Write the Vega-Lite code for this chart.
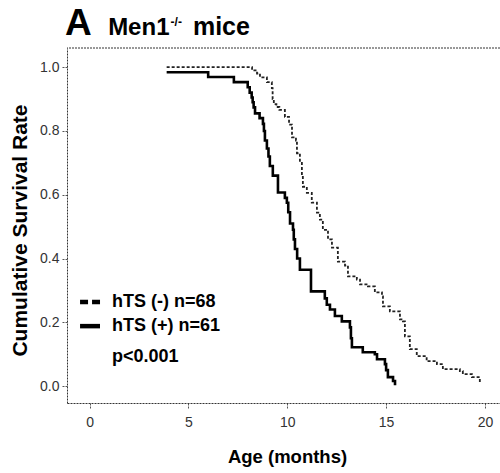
{
  "$schema": "https://vega.github.io/schema/vega-lite/v6.json",
  "width": 433,
  "height": 355,
  "autosize": "none",
  "padding": {"left": 67, "top": 48, "right": 0, "bottom": 70},
  "background": "white",
  "config": {"view": {"stroke": null}, "font": "Liberation Sans"},
  "data": {"values": [
    {"g": "hTS (-) n=68", "age": 3.9, "s": 1.0},
    {"g": "hTS (-) n=68", "age": 8.22, "s": 0.99},
    {"g": "hTS (-) n=68", "age": 8.47, "s": 0.98},
    {"g": "hTS (-) n=68", "age": 8.62, "s": 0.968},
    {"g": "hTS (-) n=68", "age": 8.97, "s": 0.953},
    {"g": "hTS (-) n=68", "age": 9.22, "s": 0.934},
    {"g": "hTS (-) n=68", "age": 9.26, "s": 0.9},
    {"g": "hTS (-) n=68", "age": 9.32, "s": 0.884},
    {"g": "hTS (-) n=68", "age": 9.45, "s": 0.875},
    {"g": "hTS (-) n=68", "age": 9.6, "s": 0.866},
    {"g": "hTS (-) n=68", "age": 9.88, "s": 0.844},
    {"g": "hTS (-) n=68", "age": 10.09, "s": 0.82},
    {"g": "hTS (-) n=68", "age": 10.24, "s": 0.78},
    {"g": "hTS (-) n=68", "age": 10.44, "s": 0.77},
    {"g": "hTS (-) n=68", "age": 10.49, "s": 0.73},
    {"g": "hTS (-) n=68", "age": 10.64, "s": 0.7},
    {"g": "hTS (-) n=68", "age": 10.74, "s": 0.656},
    {"g": "hTS (-) n=68", "age": 10.79, "s": 0.625},
    {"g": "hTS (-) n=68", "age": 10.99, "s": 0.606},
    {"g": "hTS (-) n=68", "age": 11.24, "s": 0.575},
    {"g": "hTS (-) n=68", "age": 11.5, "s": 0.544},
    {"g": "hTS (-) n=68", "age": 11.65, "s": 0.522},
    {"g": "hTS (-) n=68", "age": 11.8, "s": 0.49},
    {"g": "hTS (-) n=68", "age": 12.06, "s": 0.46},
    {"g": "hTS (-) n=68", "age": 12.26, "s": 0.434},
    {"g": "hTS (-) n=68", "age": 12.56, "s": 0.39},
    {"g": "hTS (-) n=68", "age": 12.92, "s": 0.378},
    {"g": "hTS (-) n=68", "age": 13.07, "s": 0.344},
    {"g": "hTS (-) n=68", "age": 13.52, "s": 0.334},
    {"g": "hTS (-) n=68", "age": 13.68, "s": 0.319},
    {"g": "hTS (-) n=68", "age": 14.08, "s": 0.3125},
    {"g": "hTS (-) n=68", "age": 14.43, "s": 0.294},
    {"g": "hTS (-) n=68", "age": 14.79, "s": 0.281},
    {"g": "hTS (-) n=68", "age": 14.84, "s": 0.25},
    {"g": "hTS (-) n=68", "age": 15.19, "s": 0.234},
    {"g": "hTS (-) n=68", "age": 15.7, "s": 0.209},
    {"g": "hTS (-) n=68", "age": 15.85, "s": 0.203},
    {"g": "hTS (-) n=68", "age": 15.95, "s": 0.156},
    {"g": "hTS (-) n=68", "age": 16.2, "s": 0.116},
    {"g": "hTS (-) n=68", "age": 16.55, "s": 0.094},
    {"g": "hTS (-) n=68", "age": 17.05, "s": 0.078},
    {"g": "hTS (-) n=68", "age": 17.57, "s": 0.069},
    {"g": "hTS (-) n=68", "age": 17.87, "s": 0.053},
    {"g": "hTS (-) n=68", "age": 18.73, "s": 0.047},
    {"g": "hTS (-) n=68", "age": 18.88, "s": 0.0375},
    {"g": "hTS (-) n=68", "age": 19.34, "s": 0.028},
    {"g": "hTS (-) n=68", "age": 19.74, "s": 0.0125},
    {"g": "hTS (+) n=61", "age": 3.9, "s": 0.984},
    {"g": "hTS (+) n=61", "age": 6.0, "s": 0.969},
    {"g": "hTS (+) n=61", "age": 7.3, "s": 0.953},
    {"g": "hTS (+) n=61", "age": 8.0, "s": 0.937},
    {"g": "hTS (+) n=61", "age": 8.1, "s": 0.92},
    {"g": "hTS (+) n=61", "age": 8.2, "s": 0.905},
    {"g": "hTS (+) n=61", "age": 8.25, "s": 0.89},
    {"g": "hTS (+) n=61", "age": 8.3, "s": 0.874},
    {"g": "hTS (+) n=61", "age": 8.37, "s": 0.855},
    {"g": "hTS (+) n=61", "age": 8.6, "s": 0.84},
    {"g": "hTS (+) n=61", "age": 8.77, "s": 0.822},
    {"g": "hTS (+) n=61", "age": 8.82, "s": 0.8},
    {"g": "hTS (+) n=61", "age": 8.87, "s": 0.77},
    {"g": "hTS (+) n=61", "age": 8.97, "s": 0.745},
    {"g": "hTS (+) n=61", "age": 9.05, "s": 0.72},
    {"g": "hTS (+) n=61", "age": 9.12, "s": 0.69},
    {"g": "hTS (+) n=61", "age": 9.27, "s": 0.66},
    {"g": "hTS (+) n=61", "age": 9.53, "s": 0.607},
    {"g": "hTS (+) n=61", "age": 9.88, "s": 0.59},
    {"g": "hTS (+) n=61", "age": 9.98, "s": 0.575},
    {"g": "hTS (+) n=61", "age": 10.05, "s": 0.545},
    {"g": "hTS (+) n=61", "age": 10.14, "s": 0.51},
    {"g": "hTS (+) n=61", "age": 10.29, "s": 0.49},
    {"g": "hTS (+) n=61", "age": 10.33, "s": 0.46},
    {"g": "hTS (+) n=61", "age": 10.39, "s": 0.43},
    {"g": "hTS (+) n=61", "age": 10.5, "s": 0.4},
    {"g": "hTS (+) n=61", "age": 10.64, "s": 0.365},
    {"g": "hTS (+) n=61", "age": 11.2, "s": 0.297},
    {"g": "hTS (+) n=61", "age": 11.9, "s": 0.275},
    {"g": "hTS (+) n=61", "age": 12.0, "s": 0.255},
    {"g": "hTS (+) n=61", "age": 12.16, "s": 0.24},
    {"g": "hTS (+) n=61", "age": 12.41, "s": 0.22},
    {"g": "hTS (+) n=61", "age": 12.76, "s": 0.203},
    {"g": "hTS (+) n=61", "age": 13.17, "s": 0.184},
    {"g": "hTS (+) n=61", "age": 13.22, "s": 0.15},
    {"g": "hTS (+) n=61", "age": 13.27, "s": 0.122},
    {"g": "hTS (+) n=61", "age": 13.82, "s": 0.106},
    {"g": "hTS (+) n=61", "age": 14.43, "s": 0.1},
    {"g": "hTS (+) n=61", "age": 14.54, "s": 0.084},
    {"g": "hTS (+) n=61", "age": 14.94, "s": 0.069},
    {"g": "hTS (+) n=61", "age": 15.0, "s": 0.05},
    {"g": "hTS (+) n=61", "age": 15.09, "s": 0.028},
    {"g": "hTS (+) n=61", "age": 15.35, "s": 0.016},
    {"g": "hTS (+) n=61", "age": 15.45, "s": 0.003}
  ]},
  "layer": [
    {
      "mark": {"type": "line", "interpolate": "step-after"},
      "encoding": {
        "x": {"field": "age", "type": "quantitative",
          "scale": {"domain": [-1.14, 20.76], "nice": false, "zero": false},
          "axis": {"values": [0, 5, 10, 15, 20], "title": "Age (months)", "grid": false,
            "domainDash": [2, 1], "domainColor": "#333", "tickColor": "#555", "tickSize": 6, "tickDash": [2, 1],
            "labelFontSize": 14, "labelColor": "#333", "labelPadding": 6,
            "titleFontSize": 18.5, "titleFontWeight": "bold", "titleColor": "#000", "titlePadding": 18, "titleX": 220}},
        "y": {"field": "s", "type": "quantitative",
          "scale": {"domain": [-0.053, 1.06], "nice": false, "zero": false},
          "axis": {"values": [0, 0.2, 0.4, 0.6, 0.8, 1.0], "format": ".1f", "title": "Cumulative Survival Rate", "grid": false,
            "domainDash": [2, 1], "domainColor": "#333", "tickColor": "#555", "tickSize": 5, "tickDash": [2, 1],
            "labelFontSize": 14, "labelColor": "#333", "labelPadding": 3,
            "titleFontSize": 21, "titleFontWeight": "bold", "titleColor": "#000", "titlePadding": 9, "titleY": 182}},
        "strokeDash": {"field": "g", "type": "nominal",
          "scale": {"domain": ["hTS (-) n=68", "hTS (+) n=61"], "range": [[3, 2], [1, 0]]}, "legend": null},
        "strokeWidth": {"field": "g", "type": "nominal",
          "scale": {"domain": ["hTS (-) n=68", "hTS (+) n=61"], "range": [1.8, 2.6]}, "legend": null},
        "color": {"field": "g", "type": "nominal",
          "scale": {"domain": ["hTS (-) n=68", "hTS (+) n=61"], "range": ["#222222", "#000000"]}, "legend": null}
      }
    },
    {
      "data": {"values": [{}]},
      "mark": {"type": "rule", "strokeDash": [2, 1], "color": "#333", "strokeWidth": 1},
      "encoding": {"y": {"datum": 1.06}}
    },
    {
      "data": {"values": [{}]},
      "mark": {"type": "rule", "strokeDash": [8, 4], "color": "#000", "strokeWidth": 4.5},
      "encoding": {"x": {"datum": -0.48}, "x2": {"datum": 0.53}, "y": {"datum": 0.264}}
    },
    {
      "data": {"values": [{}]},
      "mark": {"type": "rule", "color": "#000", "strokeWidth": 4.5},
      "encoding": {"x": {"datum": -0.48}, "x2": {"datum": 0.53}, "y": {"datum": 0.188}}
    },
    {
      "data": {"values": [{}]},
      "mark": {"type": "text", "text": "hTS (-) n=68", "align": "left", "baseline": "middle", "fontSize": 18, "fontWeight": "bold", "color": "#000"},
      "encoding": {"x": {"datum": 1.14}, "y": {"datum": 0.264}}
    },
    {
      "data": {"values": [{}]},
      "mark": {"type": "text", "text": "hTS (+) n=61", "align": "left", "baseline": "middle", "fontSize": 18, "fontWeight": "bold", "color": "#000"},
      "encoding": {"x": {"datum": 1.14}, "y": {"datum": 0.188}}
    },
    {
      "data": {"values": [{}]},
      "mark": {"type": "text", "text": "p<0.001", "align": "left", "baseline": "alphabetic", "fontSize": 18, "fontWeight": "bold", "color": "#000"},
      "encoding": {"x": {"datum": 1.14}, "y": {"datum": 0.075}}
    },
    {
      "data": {"values": [{}]},
      "mark": {"type": "text", "text": "A", "align": "left", "baseline": "alphabetic", "fontSize": 37, "fontWeight": "bold", "color": "#000"},
      "encoding": {"x": {"datum": -1.24}, "y": {"datum": 1.1}}
    },
    {
      "data": {"values": [{}]},
      "mark": {"type": "text", "text": "Men1", "align": "left", "baseline": "alphabetic", "fontSize": 24, "fontWeight": "bold", "color": "#000"},
      "encoding": {"x": {"datum": 0.94}, "y": {"datum": 1.1}}
    },
    {
      "data": {"values": [{}]},
      "mark": {"type": "text", "text": "-/-", "align": "left", "baseline": "alphabetic", "fontSize": 12, "fontWeight": "bold", "color": "#000"},
      "encoding": {"x": {"datum": 4.1}, "y": {"datum": 1.128}}
    },
    {
      "data": {"values": [{}]},
      "mark": {"type": "text", "text": "mice", "align": "left", "baseline": "alphabetic", "fontSize": 25, "fontWeight": "bold", "color": "#000"},
      "encoding": {"x": {"datum": 5.23}, "y": {"datum": 1.1}}
    }
  ]
}
